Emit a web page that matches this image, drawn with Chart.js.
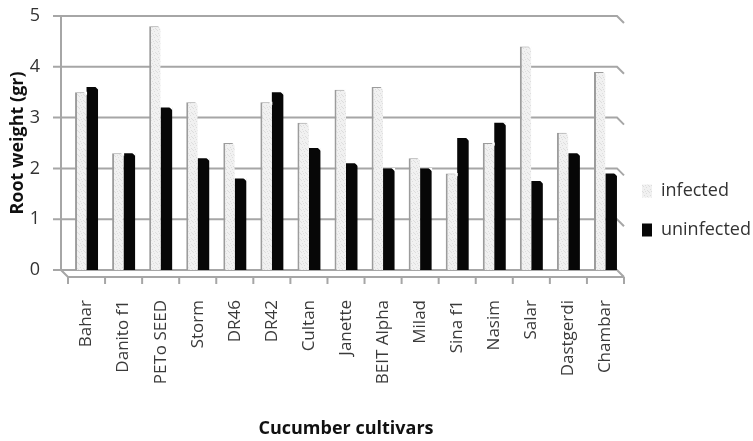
<!DOCTYPE html>
<html>
<head>
<meta charset="utf-8">
<script src="https://cdn.jsdelivr.net/npm/chart.js@4.4.1/dist/chart.umd.min.js"></script>
<style>
  html, body { margin: 0; padding: 0; background: #ffffff; }
  #wrap { width: 753px; height: 441px; }
</style>
</head>
<body>
<div id="wrap"><canvas id="c" width="753" height="441"></canvas></div>
<script>
// Root weight of cucumber cultivars, infected vs uninfected plants
const cultivars = ['Bahar', 'Danito f1', 'PETo SEED', 'Storm', 'DR46', 'DR42', 'Cultan', 'Janette',
                   'BEIT Alpha', 'Milad', 'Sina f1', 'Nasim', 'Salar', 'Dastgerdi', 'Chambar'];
const infected   = [3.5, 2.3, 4.8, 3.3, 2.5, 3.3, 2.9, 3.55, 3.6, 2.2, 1.9, 2.5, 4.4, 2.7, 3.9];
const uninfected = [3.6, 2.3, 3.2, 2.2, 1.8, 3.5, 2.4, 2.1, 2.0, 2.0, 2.6, 2.9, 1.75, 2.3, 1.9];
const yTicks = [0, 1, 2, 3, 4, 5];

const FONT = "'Open Sans', 'DejaVu Sans', sans-serif";
const DEPTH = 7;          // 3-D depth offset of the walls and floor
const WALL = '#a6a6a6';

// light stippled fill for the infected bars
function stipple(base, dot) {
  const c = document.createElement('canvas');
  c.width = 6; c.height = 6;
  const g = c.getContext('2d');
  g.fillStyle = base; g.fillRect(0, 0, 6, 6);
  g.fillStyle = dot;
  [[1, 0], [4, 1], [2, 3], [5, 4], [0, 5], [3, 5]].forEach(([a, b]) => g.fillRect(a, b, 1, 1));
  return g.createPattern(c, 'repeat');
}
const infectedFill = stipple('#f1f1f1', '#dddddd');

// back wall, side wall and floor of the 3-D frame
const frame3d = {
  id: 'frame3d',
  beforeDatasetsDraw(chart) {
    const { ctx, chartArea: a, scales: { x, y } } = chart;
    const backL = a.left - DEPTH, backR = a.right - DEPTH;
    const y0 = y.getPixelForValue(0);
    ctx.save();
    ctx.strokeStyle = WALL;
    ctx.lineWidth = 2;
    yTicks.forEach(v => {
      const py = y.getPixelForValue(v);
      ctx.beginPath();
      ctx.moveTo(backL - 8, py);
      ctx.lineTo(backR, py);
      ctx.lineTo(a.right, py + DEPTH);
      ctx.stroke();
    });
    ctx.beginPath();
    ctx.moveTo(backL, y.getPixelForValue(5));
    ctx.lineTo(backL, y0);
    ctx.lineTo(a.left, y0 + DEPTH);
    ctx.lineTo(a.right, y0 + DEPTH);
    ctx.stroke();
    for (let i = 0; i <= cultivars.length; i++) {
      const px = x.getPixelForValue(i - 0.5);
      ctx.beginPath();
      ctx.moveTo(px, y0 + DEPTH);
      ctx.lineTo(px, y0 + DEPTH + 7);
      ctx.stroke();
    }
    ctx.restore();
  },
  afterDatasetsDraw(chart) {
    // bevelled top-right corner on every bar
    const { ctx } = chart;
    ctx.save();
    ctx.fillStyle = '#ffffff';
    chart.getSortedVisibleDatasetMetas().forEach(meta => {
      meta.data.forEach(bar => {
        const { x, y, width } = bar.getProps(['x', 'y', 'width'], true);
        const r = x + width / 2;
        ctx.beginPath();
        ctx.moveTo(r - 3, y - 0.5);
        ctx.lineTo(r + 0.5, y - 0.5);
        ctx.lineTo(r + 0.5, y + 3);
        ctx.closePath();
        ctx.fill();
      });
    });
    ctx.restore();
  },
  afterLayout(chart) {
    // legend sits right of the plot, a little below its middle
    const lg = chart.legend;
    if (!lg) return;
    lg.left -= 3; lg.right -= 3;
    lg.top -= 18; lg.bottom -= 18;
  }
};

new Chart(document.getElementById('c'), {
  type: 'bar',
  data: {
    labels: cultivars,
    datasets: [
      {
        label: 'infected',
        data: infected,
        backgroundColor: infectedFill,
        borderColor: '#9c9c9c',
        borderWidth: { left: 2, top: 1, right: 0, bottom: 0 },
        borderSkipped: 'start'
      },
      {
        label: 'uninfected',
        data: uninfected,
        backgroundColor: '#070707',
        borderWidth: 0
      }
    ]
  },
  options: {
    responsive: false,
    animation: false,
    devicePixelRatio: 1,
    categoryPercentage: 0.62,
    barPercentage: 1.0,
    layout: { padding: { top: 16, left: 0, right: 0, bottom: 0 } },
    plugins: {
      tooltip: { enabled: false },
      legend: {
        position: 'right',
        maxWidth: 129,
        labels: {
          boxWidth: 10,
          boxHeight: 13,
          padding: 21,
          color: '#333333',
          font: { family: FONT, size: 18 },
          generateLabels(chart) {
            const items = Chart.defaults.plugins.legend.labels.generateLabels(chart);
            items.forEach(it => { it.lineWidth = 0; it.strokeStyle = 'rgba(0,0,0,0)'; });
            return items;
          }
        }
      }
    },
    scales: {
      x: {
        grid: { display: false, drawTicks: false },
        border: { display: false },
        ticks: {
          color: '#3a3a3a',
          font: { family: FONT, size: 17 },
          minRotation: 90,
          maxRotation: 90,
          padding: 30,
          autoSkip: false
        },
        title: {
          display: true,
          text: 'Cucumber cultivars',
          color: '#111111',
          font: { family: FONT, size: 18, weight: 'bold' },
          padding: { top: 0, bottom: 1 }
        },
        afterFit(s) { s.height = 171; }
      },
      y: {
        min: 0,
        max: 5,
        grid: { display: false, drawTicks: true, tickLength: 24 },
        border: { display: false },
        ticks: {
          stepSize: 1,
          color: '#333333',
          font: { family: FONT, size: 18 },
          padding: 4
        },
        title: {
          display: true,
          text: 'Root weight (gr)',
          color: '#111111',
          font: { family: FONT, size: 18, weight: 'bold' },
          padding: { top: 7, bottom: 0 }
        },
        afterFit(s) { s.width = 68; }
      }
    }
  },
  plugins: [frame3d]
});
</script>
</body>
</html>
